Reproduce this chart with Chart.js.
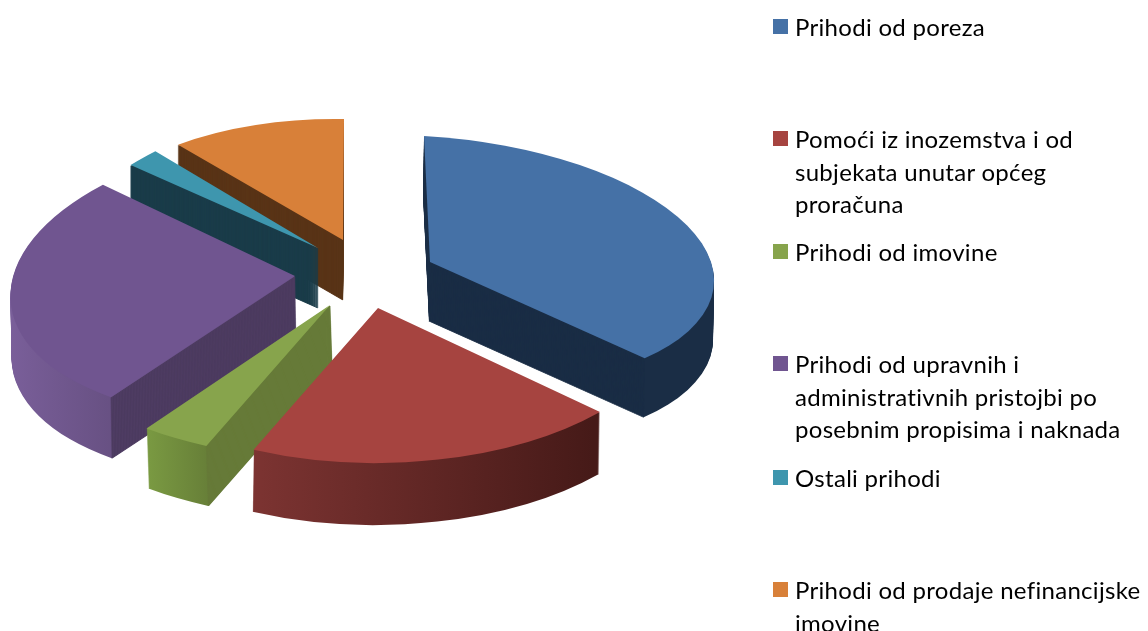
<!DOCTYPE html>
<html><head><meta charset="utf-8">
<script src="https://cdn.jsdelivr.net/npm/chart.js@4"></script>
<style>
html,body{margin:0;padding:0;background:#fff;overflow:hidden}
#wrap{position:relative;width:1148px;height:631px}
canvas{position:absolute;left:0;top:0}
.sw{position:absolute;left:773px;width:15px;height:15px}
.tx{position:absolute;left:795px;font:24px/33px Lato,sans-serif;color:#000;white-space:nowrap;letter-spacing:0.3px}
</style></head><body>
<div id="wrap"><canvas id="c" width="1148" height="631"></canvas></div>
<script>
// data
const categories = ["Prihodi od poreza","Pomoći iz inozemstva i od subjekata unutar općeg proračuna","Prihodi od imovine","Prihodi od upravnih i administrativnih pristojbi po posebnim propisima i naknada","Ostali prihodi","Prihodi od prodaje nefinancijske imovine"];
const values = [36.7,19.9,3.6,27.0,1.7,11.1];
const legendLines = [["Prihodi od poreza"],["Pomoći iz inozemstva i od","subjekata unutar općeg","proračuna"],["Prihodi od imovine"],["Prihodi od upravnih i","administrativnih pristojbi po","posebnim propisima i naknada"],["Ostali prihodi"],["Prihodi od prodaje nefinancijske","imovine"]];
// styles
const topColors  = ["#4571A6","#A64440","#87A44C","#705590","#3E96AE","#D88039"];
const wallColors = ["#1A2D45","#4A1A18","#667A38","#4B3A5E","#1A3C49","#593417"];
const rimFrom    = ["#1A2D45","#7D3432","#7A9A42","#7A5F9A","#1A3C49","#593417"];
const rimTo      = ["#1A2D45","#461A18","#677F38","#5A4672","#1A3C49","#593417"];
const rimRange   = [[0,1],[-0.42,0.72],[-0.6,-0.4],[-1,-0.3],[-1,0],[-1,0]];
// simulated 3D view: pie axes per slice and explosion from the pie centre
const pieCentre = [360,275];
const explode = [[70,-13],[18,33],[-30,30],[-65,1],[-42,-27],[-17,-35]];
const sliceView = [[284,16,6,126],[302,0,-3,155],[307,0,0,154],[284,-11,-18,143],[289,-32,-30,153],[258,4,-1,121]];
const depthX = [-1,-1,2,1,0,0];
const depthY = [59,62,60,61,60,60];
const drawOrder = [5,4,0,3,2,1];
const legendY = [27,139,252,364,478,590];

function flat(color){return {backgroundColor:color,borderColor:color,borderWidth:0,offset:0,spacing:0,borderRadius:0,circular:true,borderAlign:'center'};}
function asColor(arc,options){const p=Object.create(arc);Object.defineProperty(p,'options',{value:options,writable:true});return p;}

const pie3d = {
  id:'pie3d',
  beforeDatasetDraw(chart,args){
    const ctx=chart.ctx, arcs=args.meta.data;
    drawOrder.forEach(i=>{
      const arc=arcs[i], R=arc.outerRadius, v=sliceView[i];
      const setView=(ox,oy)=>{
        ctx.setTransform(v[0]/R,v[1]/R,v[2]/R,v[3]/R,pieCentre[0]+explode[i][0]+ox,pieCentre[1]+explode[i][1]+oy);
        ctx.transform(1,0,0,1,-arc.x,-arc.y);
      };
      ctx.save();
      // outer rim, swept downwards through the depth
      setView(0,0);
      const g=ctx.createLinearGradient(arc.x+rimRange[i][0]*R,0,arc.x+rimRange[i][1]*R,0);
      g.addColorStop(0,rimFrom[i]);g.addColorStop(1,rimTo[i]);
      const rim=asColor(arc,flat(g));
      const dy=depthY[i];
      for(let s=dy;s>=1;s--){setView(depthX[i]*s/dy,s);rim.draw(ctx);}
      // front-facing radial wall
      const facing=[];
      if(Math.cos(arc.startAngle)<-1e-6)facing.push(arc.startAngle);
      if(Math.cos(arc.endAngle)>1e-6)facing.push(arc.endAngle);
      facing.forEach(t=>{
        const ex=arc.x+Math.cos(t)*R, ey=arc.y+Math.sin(t)*R;
        for(let s=dy;s>=1;s--){
          setView(depthX[i]*s/dy,s);
          ctx.beginPath();ctx.moveTo(arc.x,arc.y);ctx.lineTo(ex,ey);
          ctx.lineWidth=1.6;ctx.strokeStyle=wallColors[i];ctx.stroke();
        }
      });
      // top face
      setView(0,0);
      arc.draw(ctx);
      ctx.restore();
    });
    return false;
  }
};

new Chart(document.getElementById('c'),{
  type:'pie',
  data:{labels:categories,datasets:[{data:values,backgroundColor:topColors,borderWidth:0,hoverOffset:0,clip:false}]},
  options:{responsive:false,animation:false,plugins:{legend:{display:false},tooltip:{enabled:false}}},
  plugins:[pie3d]
});

const wrap=document.getElementById('wrap');
legendLines.forEach((lines,i)=>{
  const s=document.createElement('div');s.className='sw';s.style.background=topColors[i];s.style.top=(legendY[i]-8)+'px';wrap.appendChild(s);
  lines.forEach((l,j)=>{
    const t=document.createElement('div');t.className='tx';t.textContent=l;t.style.top=(legendY[i]-17+j*32.5)+'px';wrap.appendChild(t);
  });
});
</script></body></html>
